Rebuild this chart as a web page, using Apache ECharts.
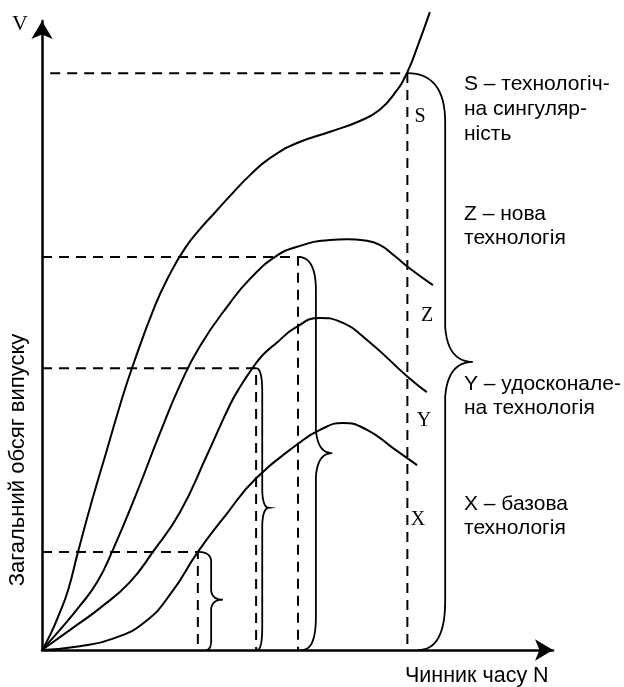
<!DOCTYPE html>
<html><head><meta charset="utf-8">
<script src="https://cdn.jsdelivr.net/npm/echarts@6/dist/echarts.min.js"></script>
<style>html,body{margin:0;padding:0;background:#fff}#c{width:624px;height:687px}</style>
</head><body><div id="c"></div>
<script>
// ---- data (N = time factor, V = total output) ----
const sN = [0,1.6,3.3,5.1,7.05,9.8,12.7,15.3,17.6,22.1,25.05,28,30.9,33.9,36.8,40.7,44.6,49.9,56.4,62.2,66.1,69.1,71.4,73.6,75.9];
const sV = [0,2.4,5.6,9.5,15.6,23.8,31.8,39,44.8,54.7,59.8,63.9,66.9,69.6,72.2,75.5,78.2,80.6,82.4,84.1,85.9,88.6,91.7,96.2,101.4];
const zN = [0,3.5,7.4,10.8,13.7,18.2,23.1,27,30.9,36.8,40.7,45.6,49.9,56.4,59.7,63.2,66.1,69.1,71.6,76.5];
const zV = [0,3.2,7,10.8,15.6,24.3,34.5,42.1,48.3,55.2,59,62.5,64.1,65.2,65.3,65.1,64.4,62.6,60.9,58];
const yN = [0,5.5,11.4,17.2,21.7,27,32.3,36.8,38.9,41.1,43.2,45.6,49.5,54.4,58.3,63.6,71.6,75.3];
const yV = [0,3.2,6.7,10.8,15.6,21.9,31,39,42,44.7,46.9,48.6,51.2,52.8,52.2,49.3,43.4,41];
const xN = [0,7.4,13.9,20.2,25.4,30.5,36,41.9,50.3,54.4,58.9,63.6,68.7,73.4];
const xV = [0,0.6,1.8,4.5,9.2,15.6,21.5,27.3,32.9,35,36.1,35,32.1,29.4];

const guideN = [30.5, 41.9, 50.1, 71.5];
const guideV = [15.6, 44.8, 62.5, 91.7];
const guideStart = [0, 0, 0, 1.6];

const braceStart = [30.5, 41.9, 50.1, 71.5];
const braceTop   = [15.6, 44.8, 62.5, 91.7];
const braceBody  = [33.1, 43.1, 53.6, 78.9];
const braceTip   = [35.4, 44.4, 56.8, 84.3];
const braceMid   = [8, 22.6, 31.3, 45.8];
const braceEnd   = [32.1, 42.1, 50.9, 73.6];

const curveLetters = ['S', 'Z', 'Y', 'X'];
const legendLines = [
  ['S – технологіч-', 'на сингуляр-', 'ність'],
  ['Z – нова', 'технологія'],
  ['Y – удосконале-', 'на технологія'],
  ['X – базова', 'технологія']
];
const yTitle = 'Загальний обсяг випуску';
const xTitle = 'Чинник часу N';
const vTitle = 'V';

// ---- build ----
const zip = (a, b) => a.map((v, i) => [v, b[i]]);
const series = [];
[[sN, sV], [zN, zV], [yN, yV], [xN, xV]].forEach(([n, v]) => {
  series.push({
    type: 'line', data: zip(n, v), smooth: 0.5, symbol: 'none', clip: false,
    lineStyle: { color: '#000', width: 2 }, silent: true, animation: false
  });
});
guideN.forEach((g, i) => {
  series.push({
    type: 'line', symbol: 'none', clip: false, animation: false, silent: true,
    data: [[guideStart[i], guideV[i]], [g, guideV[i]], [g, 0]],
    lineStyle: { color: '#000', width: 2, type: [10, 7] }
  });
});

function quad(p0, c, p1, n) {
  const out = [];
  for (let k = 1; k <= n; k++) {
    const t = k / n, u = 1 - t;
    out.push([u*u*p0[0] + 2*u*t*c[0] + t*t*p1[0], u*u*p0[1] + 2*u*t*c[1] + t*t*p1[1]]);
  }
  return out;
}
series.push({
  type: 'custom', animation: false, silent: true, clip: false,
  data: braceStart.map((s, i) => [s, braceBody[i], braceTip[i], braceTop[i], braceMid[i], braceEnd[i]]),
  encode: { x: 0, y: 3 },
  renderItem: function (params, api) {
    const p0 = api.coord([api.value(0), api.value(3)]);
    const xb = api.coord([api.value(1), 0])[0];
    const xt = api.coord([api.value(2), 0])[0];
    const ym = api.coord([0, api.value(4)])[1];
    const pB = api.coord([api.value(5), 0]);
    const yT = p0[1], yB = pB[1];
    const h = yB - yT;
    const rc = Math.max(10, h * 0.085), rt = Math.max(9, h * 0.06);
    let pts = [p0];
    pts = pts.concat(quad(p0, [xb, yT], [xb, yT + rc], 16));
    pts.push([xb, ym - rt]);
    pts = pts.concat(quad([xb, ym - rt], [xb + (xt - xb) * 0.1, ym], [xt, ym], 12));
    pts = pts.concat(quad([xt, ym], [xb + (xt - xb) * 0.1, ym], [xb, ym + rt], 12));
    pts.push([xb, yB - rc]);
    pts = pts.concat(quad([xb, yB - rc], [xb, yB], pB, 16));
    return { type: 'polyline', shape: { points: pts }, style: { fill: null, stroke: '#000', lineWidth: 1.8 } };
  }
});

const sans = 'Arial, "Liberation Sans", sans-serif';
const serif = '"Times New Roman", "Liberation Serif", serif';
const graphic = [];
graphic.push({ type: 'text', x: 20, y: 24, style: { text: vTitle, font: '22px ' + serif, fill: '#000', align: 'center', verticalAlign: 'middle' } });
graphic.push({ type: 'text', x: 18, y: 460, rotation: Math.PI / 2, style: { text: yTitle, font: '22px ' + sans, fill: '#000', align: 'center', verticalAlign: 'middle' } });
graphic.push({ type: 'text', x: 405, y: 676, style: { text: xTitle, font: '21.5px ' + sans, fill: '#000', align: 'left', verticalAlign: 'middle' } });
const letterPos = [[420, 117], [427, 316], [424, 421], [418, 520]];
curveLetters.forEach((t, i) => {
  graphic.push({ type: 'text', x: letterPos[i][0], y: letterPos[i][1], style: { text: t, font: '20px ' + serif, fill: '#000', align: 'center', verticalAlign: 'middle' } });
});
const legendY = [[84, 109, 134], [214, 238], [384, 408], [504, 528]];
legendLines.forEach((lines, i) => {
  lines.forEach((t, j) => {
    graphic.push({ type: 'text', x: 464, y: legendY[i][j], style: { text: t, font: '21px ' + sans, fill: '#000', align: 'left', verticalAlign: 'middle' } });
  });
});

const axisCommon = {
  type: 'value', min: 0, max: 100,
  axisLine: { show: true, symbol: ['none', 'arrow'], symbolSize: [16, 18], lineStyle: { color: '#000', width: 2.5 } },
  axisTick: { show: false }, axisLabel: { show: false }, splitLine: { show: false }
};
const chart = echarts.init(document.getElementById('c'), null, { renderer: 'canvas' });
chart.setOption({
  backgroundColor: '#fff',
  animation: false,
  grid: { left: 42, top: 21, right: 71, bottom: 37 },
  xAxis: Object.assign({}, axisCommon),
  yAxis: Object.assign({}, axisCommon),
  series: series,
  graphic: graphic
});
</script>
</body></html>
